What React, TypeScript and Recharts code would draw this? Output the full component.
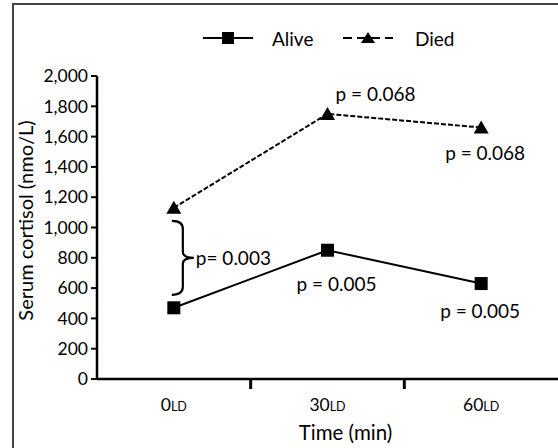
import React from 'react';
import { LineChart, Line, XAxis, YAxis, LabelList, Legend, ReferenceArea, Label } from 'recharts';

const categories = ['0', '30', '60'];
const alive = [470, 850, 630];
const died = [1130, 1750, 1660];
const aliveP = ['', 'p = 0.005', 'p = 0.005'];
const diedP = ['', 'p = 0.068', 'p = 0.068'];
const groupP = 'p= 0.003';
const yTicks = [0, 200, 400, 600, 800, 1000, 1200, 1400, 1600, 1800, 2000];
const seriesNames = ['Alive', 'Died'];
const xTitle = 'Time (min)';
const yTitle = 'Serum cortisol (nmo/L)';

const data = categories.map((c, i) => ({
  x: i + 0.5,
  cat: c,
  alive: alive[i],
  died: died[i],
  aliveP: aliveP[i],
  diedP: diedP[i],
}));

const FONT = 'Lato, "Open Sans", sans-serif';

const SquareDot = (p: any) => {
  const { cx, cy } = p;
  if (cx == null || cy == null) return null;
  return <rect x={cx - 6.5} y={cy - 6.5} width={13} height={13} fill="#000" />;
};

const TriDot = (p: any) => {
  const { cx, cy } = p;
  if (cx == null || cy == null) return null;
  return <path d={`M${cx - 7.5},${cy + 6} L${cx + 7.5},${cy + 6} L${cx},${cy - 7} Z`} fill="#000" />;
};

const XTick = (p: any) => {
  const { x, y, payload } = p;
  const v = payload.value;
  if (Number.isInteger(v)) {
    return <line x1={x} x2={x} y1={y} y2={y + 10} stroke="#000" strokeWidth={3} />;
  }
  const label = categories[Math.floor(v)];
  return (
    <text x={x} y={y + 32} textAnchor="middle" fontFamily={FONT} fill="#000">
      <tspan fontSize={17.5}>{label}</tspan>
      <tspan fontSize={12.5}>LD</tspan>
    </text>
  );
};

const diedLabel = (p: any) => {
  const { x, y, index, value } = p;
  if (!value) return null;
  const dx = index === 1 ? 8 : -36;
  const dy = index === 1 ? -20 : 25;
  return (
    <text x={x + dx} y={y + dy} dominantBaseline="central" fontFamily={FONT} fontSize={19} fill="#000">
      {value}
    </text>
  );
};

const aliveLabel = (p: any) => {
  const { x, y, index, value } = p;
  if (!value) return null;
  const dx = index === 1 ? -31 : -41;
  const dy = index === 1 ? 33 : 27;
  return (
    <text x={x + dx} y={y + dy} dominantBaseline="central" fontFamily={FONT} fontSize={19} fill="#000">
      {value}
    </text>
  );
};

const Brace = (p: any) => {
  const { x, y, width, height } = p;
  const xr = x + width;
  const t = y + 13;
  const b = y + height - 13;
  const m = y + height / 2;
  const vx = xr + 9;
  const d = `M${xr - 2},${t} Q${vx},${t} ${vx},${t + 8} L${vx},${m - 6} Q${vx},${m} ${xr + 20},${m} Q${vx},${m} ${vx},${m + 6} L${vx},${b - 8} Q${vx},${b} ${xr - 2},${b}`;
  return (
    <g>
      <path d={d} fill="none" stroke="#000" strokeWidth={2.2} />
      <text x={xr + 22} y={m} dominantBaseline="central" fontFamily={FONT} fontSize={19} fill="#000">
        {groupP}
      </text>
    </g>
  );
};

const LegendContent = () => (
  <svg width={558} height={60} style={{ display: 'block' }}>
    <line x1={203} x2={253} y1={38} y2={38} stroke="#000" strokeWidth={2} />
    <rect x={222} y={32} width={12} height={12} fill="#000" />
    <text x={272} y={38} dominantBaseline="central" fontFamily={FONT} fontSize={19} fill="#000">{seriesNames[0]}</text>
    <line x1={343} x2={393} y1={38} y2={38} stroke="#000" strokeWidth={2} strokeDasharray="9 5" />
    <path d="M361,43 L375,43 L368,32 Z" fill="#000" />
    <text x={415} y={38} dominantBaseline="central" fontFamily={FONT} fontSize={19} fill="#000">{seriesNames[1]}</text>
  </svg>
);

export default function App() {
  return (
    <div style={{ position: 'absolute', left: 0, top: 0, width: 558, height: 448, background: '#fff', overflow: 'hidden' }}>
      <div style={{ position: 'absolute', left: 12, top: 3, width: 544, height: 470, borderLeft: '2px solid #444', borderTop: '2px solid #444', borderRight: '1px solid #bbb' }} />
      <LineChart width={558} height={448} data={data} margin={{ top: 76, right: 0, left: 0, bottom: 0 }}>
        <XAxis
          dataKey="x"
          type="number"
          domain={[0, 3]}
          ticks={[0.5, 1, 1.5, 2, 2.5]}
          tickLine={false}
          tickSize={0}
          tickMargin={0}
          tick={<XTick />}
          height={69}
          axisLine={{ stroke: '#000', strokeWidth: 2.5 }}
          interval={0}
        >
          <Label value={xTitle} position="insideBottom" offset={8} dx={18} style={{ fontFamily: FONT, fontSize: 20.5, fill: '#000' }} />
        </XAxis>
        <YAxis
          type="number"
          domain={[0, 2000]}
          ticks={yTicks}
          width={97}
          tickSize={6}
          tickMargin={3}
          interval={0}
          tickFormatter={(v: number) => v.toLocaleString('en-US')}
          tick={{ fontFamily: FONT, fontSize: 17.5, fill: '#000' }}
          axisLine={{ stroke: '#000', strokeWidth: 2.5 }}
          tickLine={{ stroke: '#000', strokeWidth: 2 }}
        >
          <Label value={yTitle} angle={-90} position="insideLeft" offset={26} dy={-7} style={{ fontFamily: FONT, fontSize: 20, fill: '#000', textAnchor: 'middle' }} />
        </YAxis>
        <Legend verticalAlign="middle" align="center" content={<LegendContent />} wrapperStyle={{ position: 'absolute', top: 0, left: 0, width: 558, height: 60 }} />
        <ReferenceArea x1={0} x2={0.5} y1={alive[0]} y2={died[0]} shape={<Brace />} fill="none" stroke="none" />
        <Line dataKey="died" stroke="#000" strokeWidth={2} strokeDasharray="5 2" dot={<TriDot />} isAnimationActive={false} legendType="none">
          <LabelList dataKey="diedP" content={diedLabel} />
        </Line>
        <Line dataKey="alive" stroke="#000" strokeWidth={2} dot={<SquareDot />} isAnimationActive={false} legendType="none">
          <LabelList dataKey="aliveP" content={aliveLabel} />
        </Line>
      </LineChart>
    </div>
  );
}
